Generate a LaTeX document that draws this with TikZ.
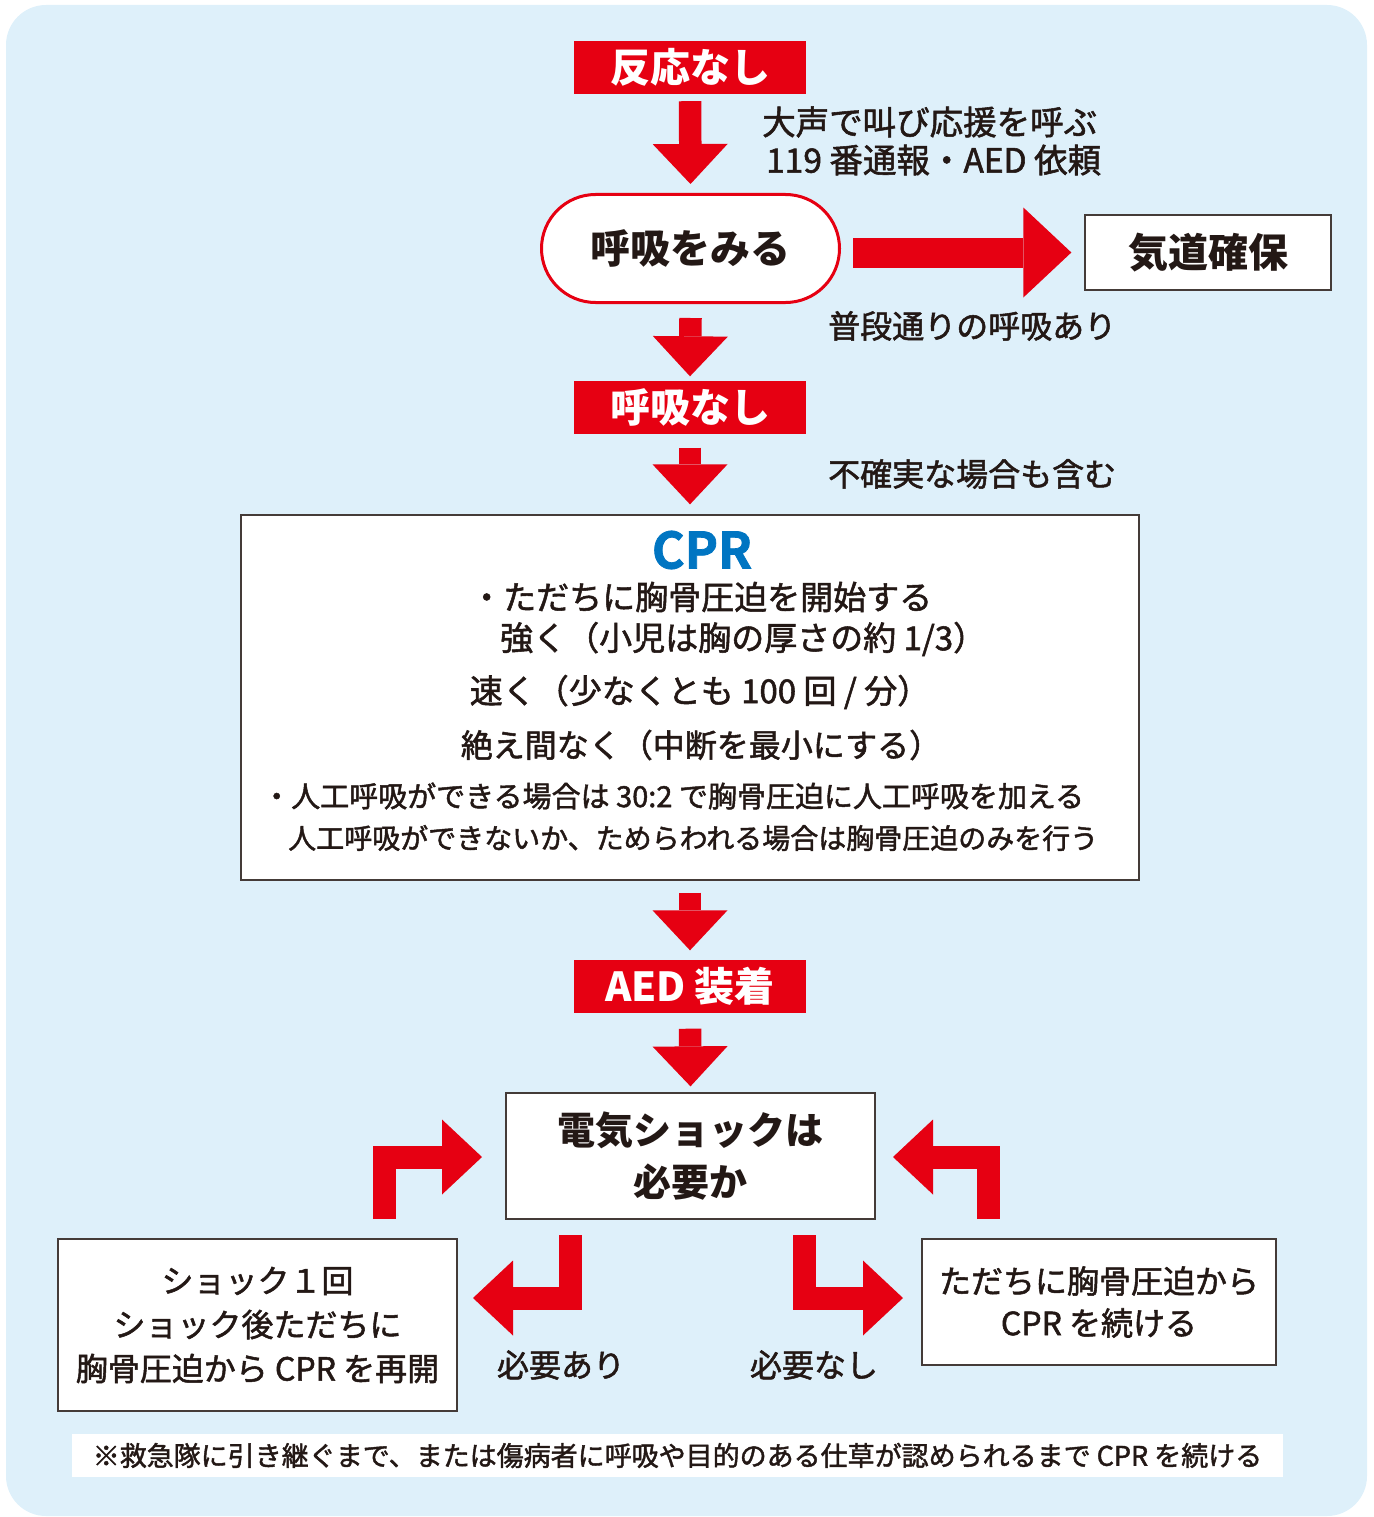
\documentclass[tikz,border=0pt]{standalone}
\usepackage{fontspec}
\setmainfont{Noto Sans CJK JP}
\newfontfamily\jpm{Noto Sans CJK JP}[FakeBold=1.6]
\newfontfamily\jph{Noto Sans CJK JP Bold}[FakeBold=1.5]
\usetikzlibrary{arrows.meta,calc}
\definecolor{bgblue}{HTML}{DEF0FA}
\definecolor{jred}{HTML}{E60012}
\definecolor{cprblue}{HTML}{0075C2}
\definecolor{ink}{HTML}{231815}
\newcommand\fs[1]{\fontsize{#1}{#1}\selectfont}
\tikzset{
  redlabel/.style={fill=jred, text=white, font=\bfseries\fs{40}, minimum width=232pt, minimum height=53pt, inner sep=0pt},
  whitebox/.style={fill=white, draw=ink!85, line width=1.3pt, inner sep=0pt},
  plain/.style={text=ink, inner sep=0pt, font=\jpm\fs{32}},
  downarrow/.style={draw=jred, line width=22.5pt, -{Triangle[length=40pt,width=75pt,line width=0pt]}},
  bentarrow/.style={draw=jred, line width=23pt, line join=miter, -{Triangle[length=40pt,width=75pt,line width=0pt]}},
  bigarrow/.style={draw=jred, line width=30pt, -{Triangle[length=48pt,width=90pt,line width=0pt]}},
}
\begin{document}
\begin{tikzpicture}[x=1pt,y=-1pt]
\useasboundingbox (0,0) rectangle (1373,1517);
\fill[bgblue, rounded corners=40pt] (6,5) rectangle (1367,1516);

% top flow
\node[redlabel] (hannou) at (690,67.5) {反応なし};
\node[fill=white, draw=jred, line width=3pt, rounded corners=54pt, minimum width=298pt, minimum height=108pt, inner sep=0pt, text=ink, font=\bfseries\fs{40}] (kokyu) at (690.5,248.5) {呼吸をみる};
\node[whitebox, minimum width=246pt, minimum height=75pt, text=ink, font=\bfseries\fs{40}] (kido) at (1208,252.5) {気道確保};
\node[redlabel] (nashi) at (690,407) {呼吸なし};

\node[plain, anchor=west, font=\jpm\fs{33.5}] (t1) at (762,122) {大声で叫び応援を呼ぶ};
\node[plain, anchor=west, font=\jpm\fs{33.5}] (t2) at (766,160) {119 番通報・AED 依頼};
\node[plain, anchor=west] (t3) at (828,326) {普段通りの呼吸あり};
\node[plain, anchor=west] (t4) at (828,474) {不確実な場合も含む};

% CPR box
\node[whitebox, minimum width=898pt, minimum height=365pt] (cpr) at (690,697.5) {};
\node[text=cprblue, font=\jph\fs{50}, inner sep=0pt] (cprt) at (702,550) {CPR};
\node[plain, anchor=west, font=\jpm\fs{33}] (c1) at (470,597) {・ただちに胸骨圧迫を開始する};
\node[plain, anchor=west, font=\jpm\fs{33}] (c2) at (500,639) {強く（小児は胸の厚さの約 1/3）};
\node[plain, font=\jpm\fs{33}] (c3) at (700,692) {速く（少なくとも 100 回 / 分）};
\node[plain, font=\jpm\fs{32}] (c4) at (701,745) {絶え間なく（中断を最小にする）};
\node[plain, anchor=west, font=\jpm\fs{29}] (c5) at (262,796) {・人工呼吸ができる場合は 30:2 で胸骨圧迫に人工呼吸を加える};
\node[plain, anchor=west, font=\jpm\fs{28}] (c6) at (288,838) {人工呼吸ができないか、ためらわれる場合は胸骨圧迫のみを行う};

\node[redlabel] (aed) at (690,986) {AED 装着};
\node[whitebox, minimum width=369pt, minimum height=126pt, text=ink, font=\bfseries\fs{38}, align=center] (shock) at (690.5,1156) {電気ショックは\\[14pt]必要か};

\node[whitebox, minimum width=399pt, minimum height=172pt, text=ink, font=\jpm\fs{32}, align=center] (left) at (257.5,1325) {ショック１回\\[12pt]ショック後ただちに\\[12pt]胸骨圧迫から CPR を再開};
\node[whitebox, minimum width=354pt, minimum height=126pt, text=ink, font=\jpm\fs{32}, align=center] (right) at (1099,1302) {ただちに胸骨圧迫から\\[10pt]CPR を続ける};

\node[plain] (yes) at (561,1365) {必要あり};
\node[plain] (no) at (814,1365) {必要なし};

\node[fill=white, minimum width=1211pt, minimum height=43pt, inner sep=0pt, text=ink, font=\jpm\fs{27}] (note) at (677.5,1455.5) {※救急隊に引き継ぐまで、または傷病者に呼吸や目的のある仕草が認められるまで CPR を続ける};

% arrows
\draw[downarrow] ([yshift=-7pt]hannou.south) -- ([yshift=9pt]kokyu.north);
\draw[bigarrow] ([xshift=12pt]kokyu.east |- kido.west) -- ([xshift=-13pt]kido.west);
\draw[downarrow] ([yshift=-14pt]kokyu.south) -- ([yshift=4pt]nashi.north);
\draw[downarrow] ([yshift=-14pt]nashi.south) -- ([yshift=10pt]cpr.north);
\draw[downarrow] ([yshift=-12pt]cpr.south) -- ([yshift=9pt]aed.north);
\draw[downarrow] ([yshift=-16pt]aed.south) -- ([yshift=6pt]shock.north);

\coordinate (la0) at (384.5,1219);
\coordinate (la1) at (482,1157);
\coordinate (ra0) at (988.5,1219);
\coordinate (ra1) at (893,1157);
\coordinate (ya0) at (570.5,1235);
\coordinate (ya1) at (473,1298);
\coordinate (na0) at (804.5,1235);
\coordinate (na1) at (903,1298);
\draw[bentarrow] (la0) |- (la1);
\draw[bentarrow] (ra0) |- (ra1);
\draw[bentarrow] (ya0) |- (ya1);
\draw[bentarrow] (na0) |- (na1);
\end{tikzpicture}
\end{document}
